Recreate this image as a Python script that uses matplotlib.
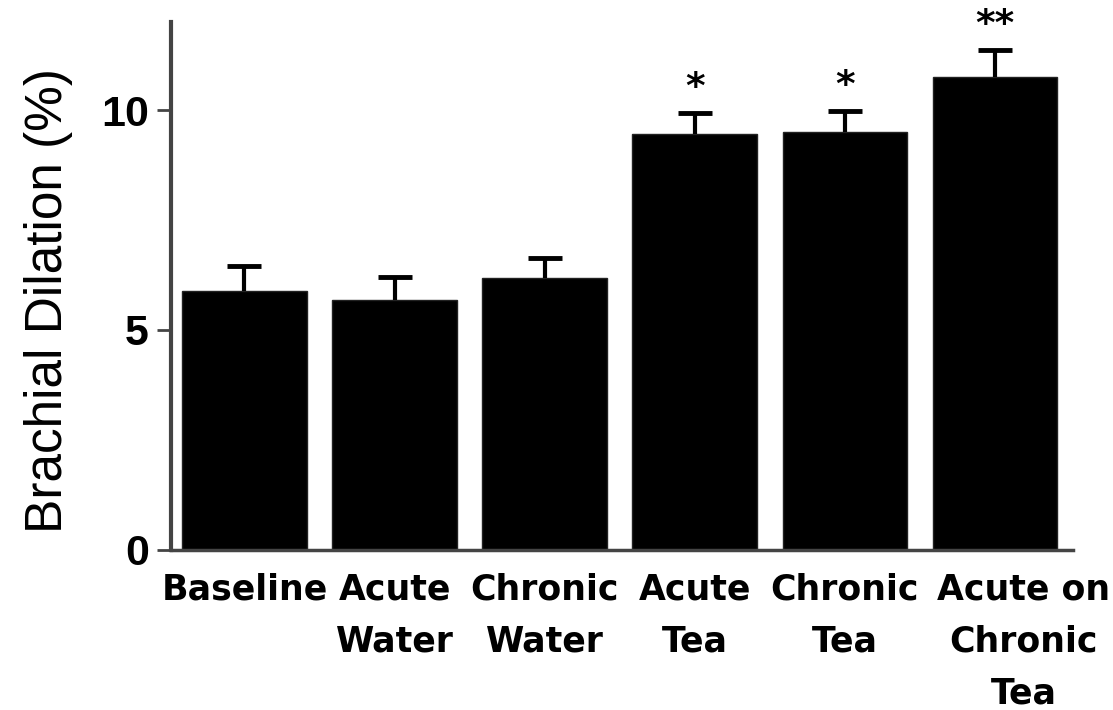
import matplotlib.pyplot as plt
import matplotlib.transforms as mtransforms

# brachial dilation per treatment group (mean, upper SEM)
groups = ['Baseline', 'Acute\nWater', 'Chronic\nWater', 'Acute\nTea', 'Chronic\nTea', 'Acute on\nChronic\nTea']
dilation = [5.88, 5.69, 6.19, 9.45, 9.50, 10.75]
sem = [0.57, 0.51, 0.44, 0.48, 0.48, 0.62]
signif = ['', '', '', '*', '*', '**']

fig = plt.figure(figsize=(11.13, 7.1), dpi=100)
ax = fig.add_axes([0.1536, 0.2254, 0.8104, 0.7436])

x = list(range(len(groups)))
ax.bar(x, dilation, width=0.83, color='black', edgecolor='#222222', linewidth=1)
_, caps, _ = ax.errorbar(x, dilation, yerr=[[0] * len(sem), sem], fmt='none', ecolor='black',
                         elinewidth=3, capsize=12, capthick=3.5)
caps[0].set_visible(False)  # one-sided bars: hide the lower cap

# significance markers above the error bars
for xi, v, e, s in zip(x, dilation, sem, signif):
    if s:
        ax.annotate(s, (xi, v + e), xytext=(0, 5), textcoords='offset points',
                    ha='center', va='bottom', fontsize=27, fontweight='bold',
                    family='DejaVu Sans', annotation_clip=False)

ax.set_xlim(-0.49, 5.52)
ax.set_ylim(0, 12)
ax.set_yticks([0, 5, 10])
ax.set_yticklabels(['0', '5', '10'], fontsize=31, fontweight='bold', family='Liberation Sans')
ax.set_xticks(x)
ax.set_xticklabels(groups, fontsize=25, fontweight='bold', family='DejaVu Sans', linespacing=1.68)
ax.tick_params(axis='x', length=0, pad=16)
ax.tick_params(axis='y', length=10, width=2, color='#444444', pad=6)

# last label sits a little to the right so it clears its neighbour
last = ax.get_xticklabels()[-1]
last.set_transform(last.get_transform() + mtransforms.ScaledTranslation(29 / 100, 0, fig.dpi_scale_trans))

ax.set_ylabel('Brachial Dilation (%)', fontsize=37, family='Liberation Sans', labelpad=20)
ax.yaxis.label.set_y(0.472)

for side in ['top', 'right']:
    ax.spines[side].set_visible(False)
ax.spines['left'].set_linewidth(3)
ax.spines['left'].set_color('#444444')
ax.spines['bottom'].set_linewidth(2.5)
ax.spines['bottom'].set_color('#444444')

plt.savefig('out.png', dpi=100)
